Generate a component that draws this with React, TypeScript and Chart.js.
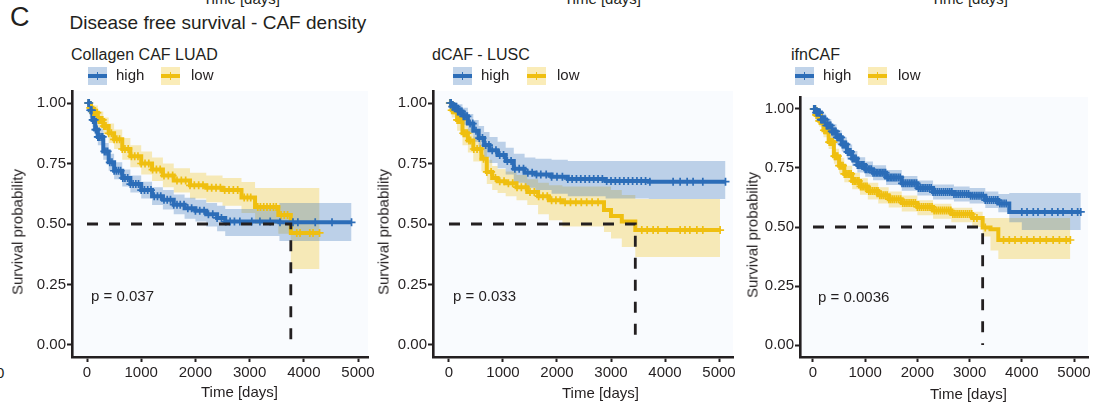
import React, { useEffect, useRef } from 'react';
import { Chart, registerables } from 'chart.js';

Chart.register(...registerables);

const FONT = '"Liberation Sans", Arial, Helvetica, sans-serif';
const INK = '#231f20';
const BLUE = '#2c6db8';
const YELLOW = '#efbf10';
const BLUE_BAND = 'rgba(46,110,183,0.3)';
const YELLOW_BAND = 'rgba(239,192,20,0.3)';
const PANEL_BG = '#f9fbfe';

const X_TICKS = [0, 1000, 2000, 3000, 4000, 5000];
const Y_TICKS = [0, 0.25, 0.5, 0.75, 1];
const GROUP_LABELS = ['high', 'low'];
const PANEL_TITLES = ['Collagen CAF LUAD', 'dCAF - LUSC', 'ifnCAF'];
const P_VALUES = ['p = 0.037', 'p = 0.033', 'p = 0.0036'];
const MEDIANS = [3760, 3450, 3250];

// ---------- Panel 1: Collagen CAF LUAD ----------
const P1_HIGH_T = [0, 50, 100, 150, 200, 300, 400, 500, 650, 800, 1000, 1200, 1400, 1600, 1800, 2000, 2200, 2400, 2550, 3550, 4880];
const P1_HIGH_S = [1.0, 0.97, 0.93, 0.89, 0.86, 0.8, 0.755, 0.72, 0.69, 0.665, 0.64, 0.615, 0.6, 0.58, 0.565, 0.555, 0.54, 0.525, 0.51, 0.507, 0.507];
const P1_HIGH_UP = [1.0, 1.0, 0.96, 0.925, 0.895, 0.835, 0.79, 0.755, 0.725, 0.7, 0.675, 0.652, 0.64, 0.622, 0.608, 0.6, 0.587, 0.575, 0.562, 0.587, 0.587];
const P1_HIGH_LO = [1.0, 0.94, 0.9, 0.855, 0.825, 0.765, 0.72, 0.685, 0.655, 0.63, 0.605, 0.578, 0.56, 0.54, 0.522, 0.51, 0.49, 0.47, 0.45, 0.43, 0.43];
const P1_HIGH_CENS = [20, 40, 60, 75, 90, 105, 120, 140, 155, 170, 185, 200, 215, 230, 260, 290, 320, 350, 380, 420, 460, 500, 540, 580, 620, 660, 700, 750, 800, 850, 900, 950, 1000, 1060, 1120, 1180, 1240, 1300, 1360, 1420, 1480, 1540, 1600, 1660, 1720, 1790, 1860, 1930, 2000, 2080, 2160, 2240, 2320, 2400, 2480, 2560, 2640, 2720, 2820, 3040, 3190, 3380, 3560, 3800, 3890, 4210, 4520, 4880];

const P1_LOW_T = [0, 50, 100, 200, 300, 400, 500, 650, 800, 1000, 1200, 1400, 1600, 1900, 2200, 2500, 2850, 3100, 3530, 3760, 4290];
const P1_LOW_S = [1.0, 0.98, 0.96, 0.93, 0.905, 0.875, 0.85, 0.81, 0.78, 0.75, 0.725, 0.7, 0.68, 0.66, 0.65, 0.64, 0.61, 0.57, 0.537, 0.463, 0.463];
const P1_LOW_UP = [1.0, 1.0, 0.99, 0.965, 0.94, 0.915, 0.89, 0.855, 0.825, 0.8, 0.775, 0.75, 0.73, 0.712, 0.7, 0.69, 0.674, 0.649, 0.649, 0.649, 0.649];
const P1_LOW_LO = [1.0, 0.96, 0.93, 0.895, 0.87, 0.835, 0.81, 0.765, 0.735, 0.705, 0.678, 0.652, 0.63, 0.605, 0.59, 0.575, 0.545, 0.5, 0.46, 0.314, 0.314];
const P1_LOW_CENS = [25, 40, 60, 80, 95, 110, 130, 150, 170, 190, 210, 230, 250, 270, 290, 310, 330, 350, 400, 450, 500, 550, 600, 650, 700, 760, 820, 880, 940, 1000, 1070, 1140, 1210, 1280, 1350, 1420, 1500, 1580, 1660, 1740, 1820, 1900, 1980, 2060, 2140, 2220, 2300, 2380, 2460, 2540, 2620, 2700, 2780, 2900, 2960, 3020, 3150, 3200, 3260, 3320, 3380, 3440, 3490, 3580, 3640, 3700, 3870, 3930, 4110, 4170, 4290];

// ---------- Panel 2: dCAF - LUSC ----------
const P2_HIGH_T = [0, 50, 150, 250, 350, 450, 550, 650, 750, 900, 1050, 1200, 1400, 1600, 1900, 2200, 2900, 3700, 5120];
const P2_HIGH_S = [1.0, 0.985, 0.965, 0.945, 0.915, 0.885, 0.855, 0.826, 0.805, 0.785, 0.76, 0.728, 0.712, 0.705, 0.695, 0.686, 0.678, 0.675, 0.675];
const P2_HIGH_UP = [1.0, 1.0, 0.995, 0.98, 0.955, 0.93, 0.905, 0.88, 0.86, 0.84, 0.815, 0.79, 0.775, 0.77, 0.765, 0.76, 0.76, 0.76, 0.76];
const P2_HIGH_LO = [1.0, 0.97, 0.935, 0.91, 0.875, 0.84, 0.805, 0.775, 0.752, 0.73, 0.705, 0.67, 0.65, 0.64, 0.625, 0.615, 0.605, 0.603, 0.603];
const P2_HIGH_CENS = [20, 40, 60, 80, 100, 120, 140, 160, 180, 200, 220, 240, 265, 290, 315, 340, 390, 440, 500, 560, 620, 680, 740, 800, 870, 940, 1010, 1080, 1150, 1220, 1300, 1380, 1460, 1540, 1620, 1700, 1800, 1900, 2000, 2100, 2200, 2280, 2360, 2440, 2520, 2600, 2680, 2760, 2840, 2920, 3000, 3080, 3160, 3240, 3320, 3400, 3480, 3560, 3640, 3720, 4150, 4280, 4410, 4520, 4700, 5120];

const P2_LOW_T = [0, 50, 150, 250, 350, 450, 600, 700, 800, 900, 1050, 1250, 1450, 1650, 1850, 2100, 2870, 3000, 3200, 3450, 5020];
const P2_LOW_S = [1.0, 0.97, 0.93, 0.875, 0.845, 0.81, 0.77, 0.715, 0.69, 0.677, 0.668, 0.652, 0.632, 0.615, 0.598, 0.59, 0.558, 0.533, 0.51, 0.475, 0.475];
const P2_LOW_UP = [1.0, 1.0, 0.975, 0.925, 0.895, 0.862, 0.82, 0.765, 0.74, 0.727, 0.717, 0.703, 0.685, 0.67, 0.66, 0.655, 0.655, 0.64, 0.62, 0.603, 0.603];
const P2_LOW_LO = [1.0, 0.94, 0.885, 0.825, 0.795, 0.758, 0.718, 0.665, 0.64, 0.628, 0.615, 0.598, 0.578, 0.54, 0.515, 0.49, 0.467, 0.44, 0.405, 0.364, 0.364];
const P2_LOW_CENS = [15, 30, 50, 70, 90, 110, 130, 150, 170, 190, 215, 240, 265, 290, 315, 340, 370, 400, 460, 520, 580, 640, 700, 780, 860, 940, 1020, 1100, 1180, 1260, 1340, 1420, 1500, 1580, 1660, 1740, 1820, 1900, 1980, 2060, 2150, 2250, 2350, 2450, 2550, 2650, 2760, 3570, 3670, 3780, 3870, 4040, 4280, 4370, 4460, 4590, 4700, 5020];

// ---------- Panel 3: ifnCAF ----------
const P3_HIGH_T = [0, 50, 150, 250, 350, 450, 550, 650, 750, 850, 1000, 1150, 1400, 1700, 2000, 2300, 2700, 3000, 3300, 3550, 3760, 4000, 5130];
const P3_HIGH_S = [1.0, 0.985, 0.955, 0.93, 0.905, 0.88, 0.85, 0.818, 0.79, 0.763, 0.745, 0.73, 0.71, 0.685, 0.665, 0.648, 0.64, 0.632, 0.614, 0.6, 0.564, 0.564, 0.564];
const P3_HIGH_UP = [1.0, 1.0, 0.98, 0.958, 0.935, 0.91, 0.88, 0.85, 0.822, 0.795, 0.777, 0.762, 0.742, 0.716, 0.697, 0.68, 0.672, 0.665, 0.65, 0.64, 0.644, 0.644, 0.644];
const P3_HIGH_LO = [1.0, 0.97, 0.93, 0.902, 0.875, 0.85, 0.82, 0.786, 0.758, 0.731, 0.713, 0.698, 0.678, 0.654, 0.633, 0.616, 0.608, 0.6, 0.58, 0.562, 0.52, 0.487, 0.487];
const P3_HIGH_CENS = [15, 30, 45, 60, 75, 90, 105, 120, 135, 150, 165, 180, 195, 210, 225, 240, 255, 270, 285, 300, 320, 340, 360, 380, 400, 420, 440, 460, 480, 500, 520, 540, 560, 580, 600, 620, 640, 660, 680, 700, 725, 750, 775, 800, 825, 850, 875, 900, 925, 950, 975, 1000, 1030, 1060, 1090, 1120, 1150, 1180, 1210, 1240, 1270, 1300, 1330, 1360, 1390, 1420, 1450, 1480, 1510, 1540, 1570, 1600, 1635, 1670, 1705, 1740, 1775, 1810, 1845, 1880, 1915, 1950, 1985, 2020, 2055, 2090, 2125, 2160, 2195, 2230, 2265, 2300, 2340, 2380, 2420, 2460, 2500, 2540, 2580, 2620, 2660, 2700, 2740, 2780, 2820, 2860, 2900, 2940, 2980, 3020, 3060, 3100, 3140, 3180, 3220, 3260, 3300, 3340, 3380, 3420, 3460, 3500, 3540, 3580, 3620, 3660, 3700, 4000, 4100, 4220, 4310, 4440, 4580, 4690, 4790, 4960, 5070, 5130];

const P3_LOW_T = [0, 50, 120, 200, 300, 400, 500, 600, 750, 900, 1050, 1250, 1450, 1700, 2000, 2300, 2650, 3050, 3250, 3400, 3550, 4930];
const P3_LOW_S = [1.0, 0.975, 0.95, 0.91, 0.86, 0.8, 0.76, 0.725, 0.695, 0.672, 0.652, 0.635, 0.618, 0.602, 0.585, 0.57, 0.555, 0.538, 0.498, 0.49, 0.445, 0.445];
const P3_LOW_UP = [1.0, 1.0, 0.975, 0.94, 0.89, 0.832, 0.793, 0.76, 0.73, 0.707, 0.687, 0.668, 0.65, 0.633, 0.613, 0.598, 0.582, 0.565, 0.538, 0.538, 0.538, 0.538];
const P3_LOW_LO = [1.0, 0.95, 0.925, 0.88, 0.83, 0.768, 0.727, 0.69, 0.66, 0.637, 0.617, 0.6, 0.583, 0.566, 0.55, 0.535, 0.52, 0.5, 0.46, 0.4, 0.364, 0.364];
const P3_LOW_CENS = [15, 30, 45, 60, 75, 90, 105, 120, 135, 150, 165, 180, 195, 210, 230, 250, 270, 290, 310, 330, 350, 370, 390, 410, 430, 450, 475, 500, 525, 550, 575, 600, 625, 650, 675, 700, 730, 760, 790, 820, 850, 880, 910, 940, 970, 1000, 1035, 1070, 1105, 1140, 1175, 1210, 1245, 1280, 1315, 1350, 1385, 1420, 1455, 1490, 1525, 1560, 1600, 1640, 1680, 1720, 1760, 1800, 1840, 1880, 1920, 1960, 2000, 2040, 2080, 2120, 2160, 2200, 2240, 2280, 2320, 2360, 2400, 2440, 2480, 2520, 2560, 2600, 2640, 2680, 2720, 2760, 2800, 2840, 2880, 2920, 2960, 3000, 3040, 3080, 3140, 3300, 3650, 3760, 3870, 3990, 4100, 4230, 4350, 4470, 4600, 4720, 4850, 4930];

type Curve = { t: number[]; s: number[]; up: number[]; lo: number[]; cens: number[] };

function stepValue(ts: number[], ss: number[], t: number) {
  let v = ss[0];
  for (let i = 0; i < ts.length; i++) if (ts[i] <= t) v = ss[i];
  return v;
}
function pts(ts: number[], vs: number[]) {
  return ts.map((t, i) => ({ x: t, y: vs[i] }));
}

const bgPlugin = {
  id: 'panelBg',
  beforeDraw(chart: any) {
    const { ctx, chartArea } = chart;
    if (!chartArea) return;
    ctx.save();
    ctx.fillStyle = PANEL_BG;
    ctx.fillRect(chartArea.left, chartArea.top, chartArea.right - chartArea.left, chartArea.bottom - chartArea.top);
    ctx.restore();
  },
};

type PanelProps = {
  left: number; top: number; width: number; height: number;
  yW: number; xH: number; padTop: number; padRight: number;
  xMin: number; xMax: number; yMin: number; yMax: number;
  high: Curve; low: Curve; median: number;
};

function KMChart(p: PanelProps) {
  const ref = useRef<HTMLCanvasElement>(null);
  useEffect(() => {
    const curveSets = (c: Curve, color: string, band: string) => ({
      cens: {
        data: c.cens.map((t) => ({ x: t, y: stepValue(c.t, c.s, t) })),
        showLine: false, pointStyle: 'cross', pointRadius: 4, pointBorderWidth: 1.7,
        pointBorderColor: color, pointBackgroundColor: color, borderColor: color, order: 1,
      },
      line: {
        data: pts(c.t, c.s), stepped: 'before', borderColor: color, borderWidth: 4,
        pointRadius: 0, fill: false, order: 2,
      },
      up: {
        data: pts(c.t, c.up), stepped: 'before', borderColor: 'rgba(0,0,0,0)', borderWidth: 0,
        pointRadius: 0, fill: '+1', backgroundColor: band, order: 3,
      },
      lo: {
        data: pts(c.t, c.lo), stepped: 'before', borderColor: 'rgba(0,0,0,0)', borderWidth: 0,
        pointRadius: 0, fill: false, order: 3,
      },
    });
    const h = curveSets(p.high, BLUE, BLUE_BAND);
    const l = curveSets(p.low, YELLOW, YELLOW_BAND);
    const datasets: any[] = [
      {
        data: [{ x: 0, y: 0.5 }, { x: p.median, y: 0.5 }, { x: p.median, y: 0 }],
        borderColor: INK, borderWidth: 2.8, borderDash: [11, 11], pointRadius: 0, fill: false, order: 0,
      },
      h.cens, l.cens, h.line, l.line, h.up, h.lo, l.up, l.lo,
    ];
    const tickFont = { family: FONT, size: 15 };
    const chart = new Chart(ref.current as HTMLCanvasElement, {
      type: 'line',
      data: { datasets },
      options: {
        animation: false,
        responsive: false,
        maintainAspectRatio: false,
        events: [],
        layout: { padding: { left: 0, top: p.padTop, right: p.padRight, bottom: 0 } },
        plugins: { legend: { display: false }, tooltip: { enabled: false }, title: { display: false } },
        scales: {
          x: {
            type: 'linear', min: p.xMin, max: p.xMax,
            afterBuildTicks: (s: any) => { s.ticks = X_TICKS.map((v) => ({ value: v })); },
            afterFit: (s: any) => { s.height = p.xH; s.paddingLeft = 0; s.paddingRight = 0; },
            ticks: { autoSkip: false, maxRotation: 0, font: tickFont, color: INK, padding: 2, callback: (v: any) => String(v) },
            grid: { drawOnChartArea: false, drawTicks: true, tickLength: 5, tickWidth: 2, tickColor: INK },
            border: { display: true, color: INK, width: 2.6 },
          },
          y: {
            type: 'linear', min: p.yMin, max: p.yMax,
            afterBuildTicks: (s: any) => { s.ticks = Y_TICKS.map((v) => ({ value: v })); },
            afterFit: (s: any) => { s.width = p.yW; s.paddingTop = 0; s.paddingBottom = 0; },
            ticks: { autoSkip: false, font: tickFont, color: INK, padding: 1, callback: (v: any) => Number(v).toFixed(2) },
            grid: { drawOnChartArea: false, drawTicks: true, tickLength: 5, tickWidth: 2, tickColor: INK },
            border: { display: true, color: INK, width: 2.6 },
          },
        },
      } as any,
      plugins: [bgPlugin],
    });
    return () => chart.destroy();
  }, []);
  return (
    <canvas
      ref={ref}
      width={p.width}
      height={p.height}
      style={{ position: 'absolute', left: p.left, top: p.top, width: p.width, height: p.height }}
    />
  );
}

function Txt(props: { x: number; y: number; size: number; children: React.ReactNode }) {
  return (
    <div
      style={{
        position: 'absolute', left: props.x, top: props.y - 0.49 * props.size,
        fontSize: props.size, lineHeight: `${props.size}px`, fontFamily: FONT,
        color: INK, whiteSpace: 'nowrap',
      }}
    >
      {props.children}
    </div>
  );
}

function VTxt(props: { cx: number; cy: number; size: number; children: React.ReactNode }) {
  return (
    <div
      style={{
        position: 'absolute', left: props.cx, top: props.cy, fontSize: props.size,
        lineHeight: `${props.size}px`, fontFamily: FONT, color: INK, whiteSpace: 'nowrap',
        transform: 'translate(-50%, -50%) rotate(-90deg)',
      }}
    >
      {props.children}
    </div>
  );
}

function Key(props: { x: number; y: number; band: string; line: string }) {
  return (
    <div style={{ position: 'absolute', left: props.x, top: props.y, width: 19, height: 18, background: props.band }}>
      <div style={{ position: 'absolute', left: 0, width: 19, top: 7, height: 4, background: props.line }} />
      <div style={{ position: 'absolute', left: 8.5, width: 1.8, top: 5, height: 8, background: props.line }} />
    </div>
  );
}

const PANELS: PanelProps[] = [
  {
    left: 0, top: 80, width: 376, height: 332, yW: 72, xH: 55, padTop: 11, padRight: 8,
    xMin: -277, xMax: 5184, yMin: -0.0496, yMax: 1.0496,
    high: { t: P1_HIGH_T, s: P1_HIGH_S, up: P1_HIGH_UP, lo: P1_HIGH_LO, cens: P1_HIGH_CENS },
    low: { t: P1_LOW_T, s: P1_LOW_S, up: P1_LOW_UP, lo: P1_LOW_LO, cens: P1_LOW_CENS },
    median: MEDIANS[0],
  },
  {
    left: 376, top: 80, width: 364, height: 332, yW: 57, xH: 55, padTop: 11, padRight: 7,
    xMin: -296, xMax: 5259, yMin: -0.0496, yMax: 1.0496,
    high: { t: P2_HIGH_T, s: P2_HIGH_S, up: P2_HIGH_UP, lo: P2_HIGH_LO, cens: P2_HIGH_CENS },
    low: { t: P2_LOW_T, s: P2_LOW_S, up: P2_LOW_UP, lo: P2_LOW_LO, cens: P2_LOW_CENS },
    median: MEDIANS[1],
  },
  {
    left: 742, top: 80, width: 362, height: 332, yW: 58, xH: 55, padTop: 17, padRight: 16,
    xMin: -249, xMax: 5268, yMin: -0.0508, yMax: 1.0508,
    high: { t: P3_HIGH_T, s: P3_HIGH_S, up: P3_HIGH_UP, lo: P3_HIGH_LO, cens: P3_HIGH_CENS },
    low: { t: P3_LOW_T, s: P3_LOW_S, up: P3_LOW_UP, lo: P3_LOW_LO, cens: P3_LOW_CENS },
    median: MEDIANS[2],
  },
];

const TITLE_X = [71, 432, 791];
const KEY_HIGH_X = [88, 453, 795];
const KEY_LOW_X = [161, 527, 868];
const PVAL_POS = [[91, 295], [453, 295], [818, 296.5]];
const XTITLE_POS = [[201, 391], [562, 392.5], [930, 393]];
const YTITLE_POS = [[17, 232], [383, 232], [752, 235]];

export default function App() {
  return (
    <div style={{ position: 'fixed', left: 0, top: 0, width: 1104, height: 412, overflow: 'hidden', background: '#ffffff' }}>
      {/* cut-off remnants of the figure row above and the panel to the left */}
      <Txt x={203} y={-1.5} size={15}>Time [days]</Txt>
      <Txt x={564} y={-1.5} size={15}>Time [days]</Txt>
      <Txt x={931} y={-1.5} size={15}>Time [days]</Txt>
      <Txt x={-4} y={372} size={15}>0</Txt>

      <Txt x={10} y={17} size={27}>C</Txt>
      <Txt x={69.5} y={22} size={19}>Disease free survival - CAF density</Txt>

      {PANELS.map((p, i) => (
        <KMChart key={'c' + i} {...p} />
      ))}
      {PANEL_TITLES.map((t, i) => (
        <React.Fragment key={'t' + i}>
          <Txt x={TITLE_X[i]} y={54.5} size={16}>{t}</Txt>
          <Key x={KEY_HIGH_X[i]} y={67} band={BLUE_BAND} line={BLUE} />
          <Txt x={KEY_HIGH_X[i] + 28} y={74} size={15}>{GROUP_LABELS[0]}</Txt>
          <Key x={KEY_LOW_X[i]} y={67} band={YELLOW_BAND} line={YELLOW} />
          <Txt x={KEY_LOW_X[i] + 30} y={74} size={15}>{GROUP_LABELS[1]}</Txt>
          <Txt x={PVAL_POS[i][0]} y={PVAL_POS[i][1]} size={15}>{P_VALUES[i]}</Txt>
          <Txt x={XTITLE_POS[i][0]} y={XTITLE_POS[i][1]} size={15}>Time [days]</Txt>
          <VTxt cx={YTITLE_POS[i][0]} cy={YTITLE_POS[i][1]} size={15}>Survival probability</VTxt>
        </React.Fragment>
      ))}
    </div>
  );
}
